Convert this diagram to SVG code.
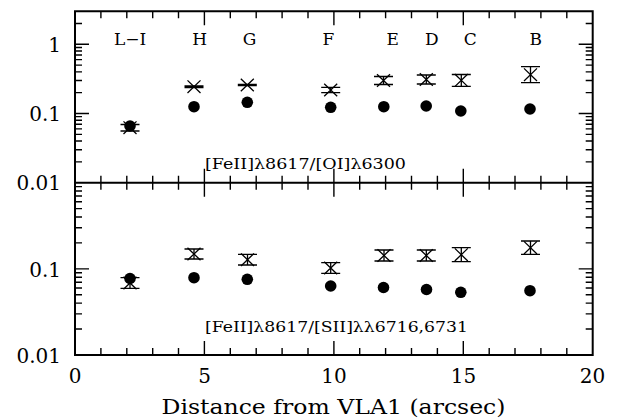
<svg xmlns="http://www.w3.org/2000/svg" xmlns:xlink="http://www.w3.org/1999/xlink" width="623" height="420" viewBox="0 0 623 420">
<style>
.frame{fill:none;stroke:#000;stroke-width:2}
.tick{fill:none;stroke:#000;stroke-width:1.4}
.err{fill:none;stroke:#000;stroke-width:1.3}
.num{font-family:"DejaVu Serif","Liberation Serif",serif;font-size:20px;fill:#000}
.lab{font-family:"DejaVu Serif","Liberation Serif",serif;font-size:17px;fill:#000;text-anchor:middle}
.ratio{font-family:"DejaVu Serif","Liberation Serif",serif;font-size:15px;fill:#000}
.title{font-family:"DejaVu Serif","Liberation Serif",serif;font-size:20px;fill:#000}
.dot{fill:#000}
</style>
<defs>
<g id="xm"><path d="M-6.5,-6.3 L6.5,6.3 M-6.5,6.3 L6.5,-6.3" fill="none" stroke="#000" stroke-width="1.3"/></g>
</defs>
<rect width="623" height="420" fill="#fff"/>
<g id="axes">
<path class="frame" d="M75,11.3 H592.7 V355 H75 Z M75,182.7 H592.7"/>
<path class="tick" d="
M100.9,11.3v7 M126.8,11.3v7 M152.7,11.3v7 M178.5,11.3v7 M204.4,11.3v14 M230.3,11.3v7 M256.2,11.3v7 M282.1,11.3v7 M308,11.3v7 M333.9,11.3v14 M359.7,11.3v7 M385.6,11.3v7 M411.5,11.3v7 M437.4,11.3v7 M463.3,11.3v14 M489.2,11.3v7 M515,11.3v7 M540.9,11.3v7 M566.8,11.3v7
M100.9,175.7v14 M126.8,175.7v14 M152.7,175.7v14 M178.5,175.7v14 M204.4,168.7v28 M230.3,175.7v14 M256.2,175.7v14 M282.1,175.7v14 M308,175.7v14 M333.9,168.7v28 M359.7,175.7v14 M385.6,175.7v14 M411.5,175.7v14 M437.4,175.7v14 M463.3,168.7v28 M489.2,175.7v14 M515,175.7v14 M540.9,175.7v14 M566.8,175.7v14
M100.9,355v-7 M126.8,355v-7 M152.7,355v-7 M178.5,355v-7 M204.4,355v-14 M230.3,355v-7 M256.2,355v-7 M282.1,355v-7 M308,355v-7 M333.9,355v-14 M359.7,355v-7 M385.6,355v-7 M411.5,355v-7 M437.4,355v-7 M463.3,355v-14 M489.2,355v-7 M515,355v-7 M540.9,355v-7 M566.8,355v-7
M75,161.87h7 M75,149.68h7 M75,141.04h7 M75,134.33h7 M75,128.85h7 M75,124.22h7 M75,120.21h7 M75,116.67h7 M75,113.5h14 M75,92.67h7 M75,80.48h7 M75,71.84h7 M75,65.13h7 M75,59.65h7 M75,55.02h7 M75,51.01h7 M75,47.47h7 M75,44.3h14 M75,23.47h7
M592.7,161.87h-7 M592.7,149.68h-7 M592.7,141.04h-7 M592.7,134.33h-7 M592.7,128.85h-7 M592.7,124.22h-7 M592.7,120.21h-7 M592.7,116.67h-7 M592.7,113.5h-14 M592.7,92.67h-7 M592.7,80.48h-7 M592.7,71.84h-7 M592.7,65.13h-7 M592.7,59.65h-7 M592.7,55.02h-7 M592.7,51.01h-7 M592.7,47.47h-7 M592.7,44.3h-14 M592.7,23.47h-7
M75,329.07h7 M75,313.9h7 M75,303.13h7 M75,294.78h7 M75,287.96h7 M75,282.19h7 M75,277.2h7 M75,272.79h7 M75,268.85h14 M75,242.92h7 M75,227.75h7 M75,216.98h7 M75,208.63h7 M75,201.81h7 M75,196.04h7 M75,191.05h7 M75,186.64h7
M592.7,329.07h-7 M592.7,313.9h-7 M592.7,303.13h-7 M592.7,294.78h-7 M592.7,287.96h-7 M592.7,282.19h-7 M592.7,277.2h-7 M592.7,272.79h-7 M592.7,268.85h-14 M592.7,242.92h-7 M592.7,227.75h-7 M592.7,216.98h-7 M592.7,208.63h-7 M592.7,201.81h-7 M592.7,196.04h-7 M592.7,191.05h-7 M592.7,186.64h-7"/>
<g class="num" text-anchor="end">
<text x="61" y="52">1</text>
<text x="61" y="121">0.1</text>
<text x="61" y="190">0.01</text>
<text x="61" y="276.5">0.1</text>
<text x="61" y="362.5">0.01</text>
</g>
<g class="num" text-anchor="middle">
<text x="75" y="383">0</text>
<text x="204.5" y="383">5</text>
<text x="334" y="383">10</text>
<text x="463.5" y="383">15</text>
<text x="592.5" y="383">20</text>
</g>
<text class="title" x="161.5" y="414" textLength="344" lengthAdjust="spacingAndGlyphs">Distance from VLA1 (arcsec)</text>
</g>
<g id="labels">
<text class="lab" x="130" y="45">L−I</text>
<text class="lab" x="199.7" y="45">H</text>
<text class="lab" x="249.5" y="45">G</text>
<text class="lab" x="328.3" y="45">F</text>
<text class="lab" x="392.8" y="45">E</text>
<text class="lab" x="431.8" y="45">D</text>
<text class="lab" x="470.2" y="45">C</text>
<text class="lab" x="535.8" y="45">B</text>
<text class="ratio" x="205" y="169" textLength="201" lengthAdjust="spacingAndGlyphs">[FeII]λ8617/[OI]λ6300</text>
<text class="ratio" x="205" y="331.5" textLength="263" lengthAdjust="spacingAndGlyphs">[FeII]λ8617/[SII]λλ6716,6731</text>
</g>
<g id="upper-panel">
<g id="u-LI"><path class="err" d="M120.5,124.5h19 M120.5,131h19 M130,124.5V131"/><use xlink:href="#xm" x="130" y="127.7"/><circle class="dot" cx="130" cy="126" r="5.8"/></g>
<g id="u-H"><path class="err" d="M184.5,86h19 M184.5,87.5h19 M194,86V87.5"/><use xlink:href="#xm" x="194" y="86.7"/><circle class="dot" cx="194" cy="106.7" r="5.8"/></g>
<g id="u-G"><path class="err" d="M237.8,84.3h19 M237.8,85.5h19 M247.3,84.3V85.5"/><use xlink:href="#xm" x="247.3" y="85"/><circle class="dot" cx="247.3" cy="102.3" r="5.8"/></g>
<g id="u-F"><path class="err" d="M321.2,87.3h19 M321.2,92.7h19 M330.7,87.3V92.7"/><use xlink:href="#xm" x="330.7" y="90"/><circle class="dot" cx="330.7" cy="107.3" r="5.8"/></g>
<g id="u-E"><path class="err" d="M374,76.5h19 M374,84.5h19 M383.5,76.5V84.5"/><use xlink:href="#xm" x="383.5" y="80.5"/><circle class="dot" cx="383.8" cy="106.7" r="5.8"/></g>
<g id="u-D"><path class="err" d="M416.8,75h19 M416.8,84h19 M426.3,75V84"/><use xlink:href="#xm" x="426.3" y="79.5"/><circle class="dot" cx="426.2" cy="106" r="5.8"/></g>
<g id="u-C"><path class="err" d="M451.8,74.5h19 M451.8,86.3h19 M461.3,74.5V86.3"/><use xlink:href="#xm" x="461.3" y="80.3"/><circle class="dot" cx="460.8" cy="111" r="5.8"/></g>
<g id="u-B"><path class="err" d="M521,66.7h19 M521,82.7h19 M530.5,66.7V82.7"/><use xlink:href="#xm" x="530.5" y="74.7"/><circle class="dot" cx="530" cy="109" r="5.8"/></g>
</g>
<g id="lower-panel">
<g id="l-LI"><path class="err" d="M120.5,277.7h19 M120.5,288.3h19 M130,277.7V288.3"/><use xlink:href="#xm" x="130" y="283"/><circle class="dot" cx="130" cy="278.5" r="5.8"/></g>
<g id="l-H"><path class="err" d="M184.5,249h19 M184.5,259h19 M194,249V259"/><use xlink:href="#xm" x="194" y="254"/><circle class="dot" cx="194" cy="277.7" r="5.8"/></g>
<g id="l-G"><path class="err" d="M238,254.3h19 M238,265h19 M247.5,254.3V265"/><use xlink:href="#xm" x="247.5" y="259.7"/><circle class="dot" cx="247.3" cy="279.3" r="5.8"/></g>
<g id="l-F"><path class="err" d="M321.2,262.7h19 M321.2,273.3h19 M330.7,262.7V273.3"/><use xlink:href="#xm" x="330.7" y="268"/><circle class="dot" cx="330.7" cy="286" r="5.8"/></g>
<g id="l-E"><path class="err" d="M374.5,250h19 M374.5,261h19 M384,250V261"/><use xlink:href="#xm" x="384" y="255.5"/><circle class="dot" cx="383.5" cy="287.5" r="5.8"/></g>
<g id="l-D"><path class="err" d="M416.8,250h19 M416.8,261h19 M426.3,250V261"/><use xlink:href="#xm" x="426.3" y="255.5"/><circle class="dot" cx="426.5" cy="289.5" r="5.8"/></g>
<g id="l-C"><path class="err" d="M451.8,247.7h19 M451.8,261.7h19 M461.3,247.7V261.7"/><use xlink:href="#xm" x="461.3" y="254.7"/><circle class="dot" cx="460.8" cy="292.3" r="5.8"/></g>
<g id="l-B"><path class="err" d="M521,241h19 M521,254.3h19 M530.5,241V254.3"/><use xlink:href="#xm" x="530.5" y="247.7"/><circle class="dot" cx="530" cy="290.7" r="5.8"/></g>
</g>
</svg>
